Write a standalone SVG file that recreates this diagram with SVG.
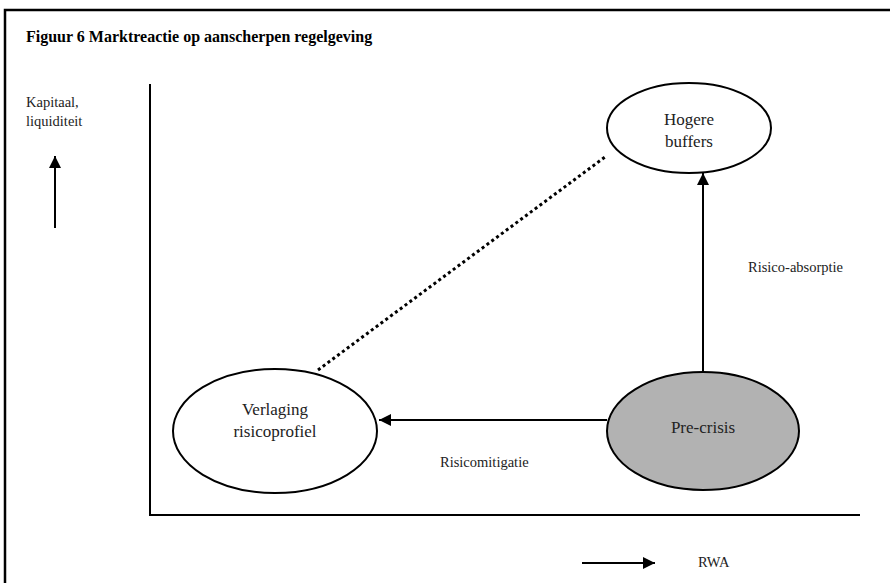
<svg xmlns="http://www.w3.org/2000/svg" width="890" height="583" viewBox="0 0 890 583">
<defs>
<marker id="ah" viewBox="0 0 10 10" refX="10" refY="5" markerWidth="6.5" markerHeight="6" markerUnits="strokeWidth" orient="auto">
<path d="M0,0 L10,5 L0,10 z" fill="#000"/>
</marker>
<style>
text{font-family:"Liberation Serif","Times New Roman",serif;fill:#222}
.t{font-size:16px;font-weight:bold;fill:#000}
.n{font-size:17px;text-anchor:middle}
.s{font-size:14.5px}
.ln{stroke:#000;stroke-width:2;fill:none}
.el{stroke:#000;stroke-width:2;fill:#fff}
</style>
</defs>
<rect width="890" height="583" fill="#fff"/>
<path d="M5,590 V10 H895" fill="none" stroke="#000" stroke-width="2.5"/>
<text class="t" x="26" y="42">Figuur 6 Marktreactie op aanscherpen regelgeving</text>
<g id="axes">
<path class="ln" d="M150,84 V515 H860"/>
</g>
<g id="y-label">
<text class="s" x="26" y="107">Kapitaal,</text>
<text class="s" x="26" y="126">liquiditeit</text>
<path class="ln" d="M55,228 V156" marker-end="url(#ah)"/>
</g>
<g id="x-label">
<path class="ln" d="M582,563 H655" marker-end="url(#ah)"/>
<text class="s" x="698" y="567">RWA</text>
</g>
<g id="connectors">
<path class="ln" d="M703,372 V173" marker-end="url(#ah)"/>
<path class="ln" d="M607,420 H379" marker-end="url(#ah)"/>
<path d="M318,370 L605,157" stroke="#000" stroke-width="3" stroke-dasharray="3,3" fill="none"/>
<text class="s" x="748" y="272">Risico-absorptie</text>
<text class="s" x="440" y="467">Risicomitigatie</text>
</g>
<g id="hogere">
<ellipse class="el" cx="689" cy="128" rx="82" ry="45"/>
<text class="n" x="689" y="125">Hogere</text>
<text class="n" x="689" y="147">buffers</text>
</g>
<g id="verlaging">
<ellipse class="el" cx="275" cy="431" rx="102" ry="62"/>
<text class="n" x="275" y="415">Verlaging</text>
<text class="n" x="275" y="437">risicoprofiel</text>
</g>
<g id="precrisis">
<ellipse class="el" cx="703" cy="431" rx="96" ry="59" style="fill:#b2b2b2"/>
<text class="n" x="703" y="433">Pre-crisis</text>
</g>
</svg>
